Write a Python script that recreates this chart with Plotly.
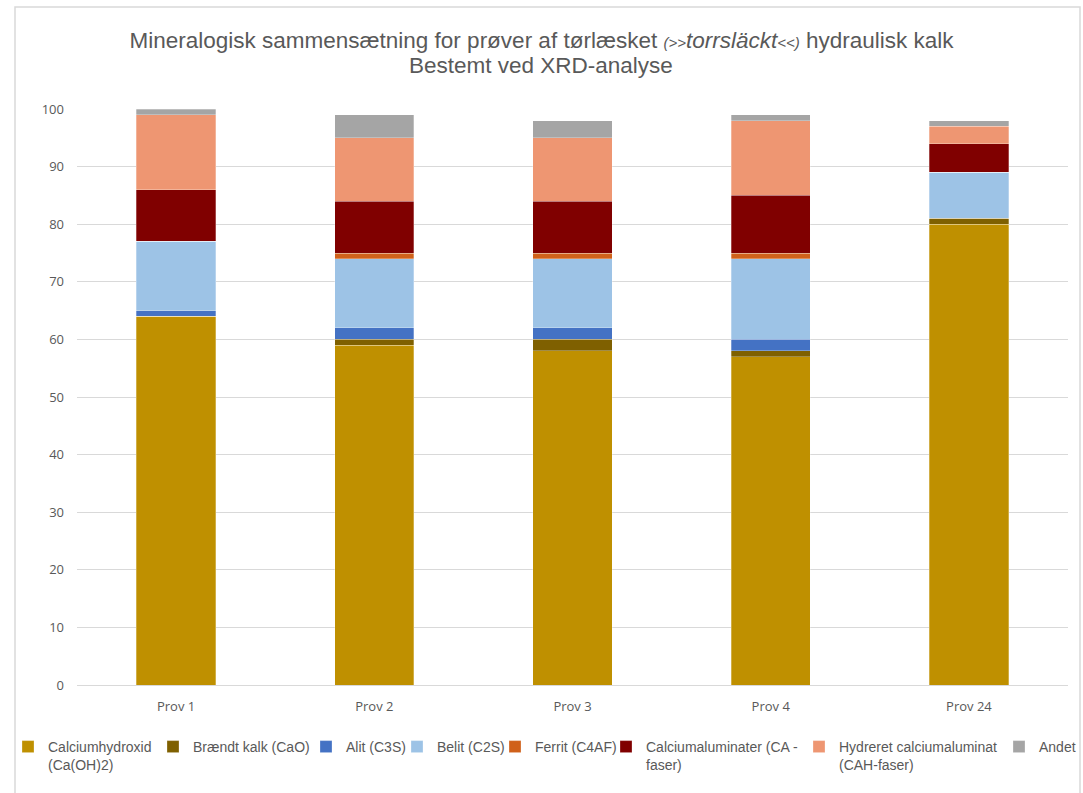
import plotly.graph_objects as go

categories = ["Prov 1", "Prov 2", "Prov 3", "Prov 4", "Prov 24"]

calciumhydroxid = [64, 59, 58, 57, 80]
braendt_kalk = [0, 1, 2, 1, 1]
alit = [1, 2, 2, 2, 0]
belit = [12, 12, 12, 14, 8]
ferrit = [0, 1, 1, 1, 0]
calciumaluminater = [9, 9, 9, 10, 5]
hydreret = [13, 11, 11, 13, 3]
andet = [1, 4, 3, 1, 1]

series_names = [
    "Calciumhydroxid<br>(Ca(OH)2)",
    "Brændt kalk (CaO)",
    "Alit (C3S)",
    "Belit (C2S)",
    "Ferrit (C4AF)",
    "Calciumaluminater (CA -<br>faser)",
    "Hydreret calciumaluminat<br>(CAH-faser)",
    "Andet",
]
series_values = [calciumhydroxid, braendt_kalk, alit, belit, ferrit,
                 calciumaluminater, hydreret, andet]
colors = ["#BF9000", "#7F6000", "#4472C4", "#9DC3E6", "#D0611A",
          "#800000", "#EE9672", "#A5A5A5"]

# left pixel of each legend entry box
legend_px = [8, 153, 306, 397, 495, 606, 799, 999]

W, H = 1083, 793
L, R, T, B = 77, 15, 109, 108

fig = go.Figure()
legend_layouts = {}
for i, (name, vals, col) in enumerate(zip(series_names, series_values, colors)):
    key = "legend" if i == 0 else f"legend{i + 1}"
    fig.add_trace(go.Bar(
        x=categories, y=vals, name=name, legend=key,
        marker=dict(color=col, line=dict(color="rgba(255,255,255,0.35)", width=0.8)),
    ))
    legend_layouts[key] = dict(
        orientation="h", xref="container", yref="container",
        x=legend_px[i] / W, xanchor="left",
        y=1 - 731 / H, yanchor="top",
        font=dict(family="Liberation Sans", size=14, color="#595959"),
        itemwidth=30, valign="top", bgcolor="rgba(0,0,0,0)",
    )

title_text = ("Mineralogisk sammensætning for prøver af tørlæsket "
              "<span style='font-size:15px'><i>(&gt;&gt;</i></span><i>torrsläckt</i>"
              "<span style='font-size:15px'><i>&lt;&lt;)</i></span> hydraulisk kalk")

fig.update_layout(
    width=W, height=H,
    barmode="stack", bargap=0.6,
    paper_bgcolor="white", plot_bgcolor="white",
    margin=dict(l=L, r=R, t=T, b=B),
    title=dict(text=title_text, x=0.5, xanchor="center", xref="container",
               yref="container", y=1 - 40 / H, yanchor="middle",
               font=dict(family="Liberation Sans", size=22.5, color="#595959")),
    annotations=[dict(text="Bestemt ved XRD-analyse", xref="paper", yref="paper",
                      x=(541 - L) / (W - L - R), y=1 + (T - 65) / (H - T - B),
                      xanchor="center", yanchor="middle", showarrow=False,
                      font=dict(family="Liberation Sans", size=22.5, color="#595959"))],
    font=dict(family="Open Sans", color="#595959", size=13),
    xaxis=dict(showgrid=False, showline=False, ticks="", ticklabelstandoff=12,
               tickfont=dict(size=13, color="#595959")),
    yaxis=dict(range=[0, 100], dtick=10, showgrid=True, gridcolor="#D9D9D9", gridwidth=1,
               zeroline=True, zerolinecolor="#D9D9D9", zerolinewidth=1,
               tickfont=dict(size=13, color="#595959"), ticks="", ticklabelstandoff=12),
    showlegend=True,
    shapes=[dict(type="rect", xref="paper", yref="paper",
                 x0=(15 - L) / (W - L - R), x1=(1080 - L) / (W - L - R),
                 y0=-(800 - (H - B)) / (H - T - B), y1=((H - B) - 7) / (H - T - B),
                 line=dict(color="#D9D9D9", width=1.5), fillcolor="rgba(0,0,0,0)", layer="below")],
    **legend_layouts,
)

fig.write_html("out.html")
